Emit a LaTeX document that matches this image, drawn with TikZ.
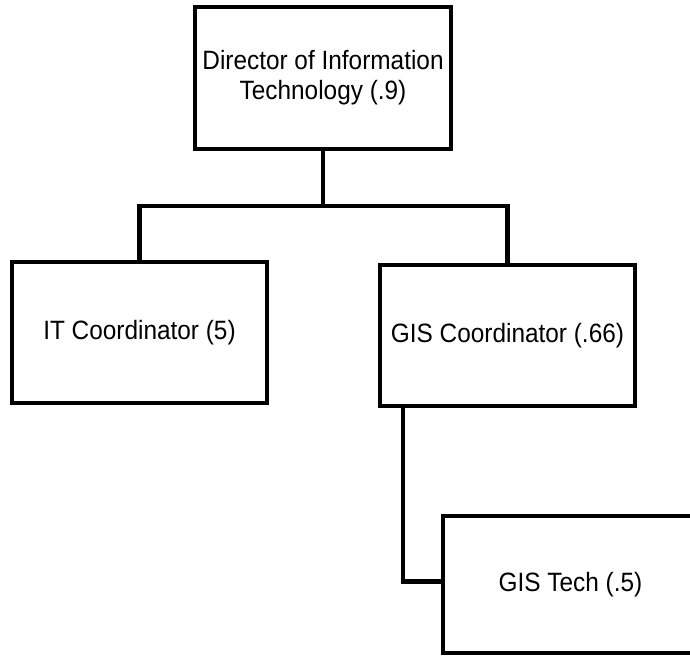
\documentclass[tikz,border=0pt]{standalone}
\usepackage{fontspec}
\setmainfont[FakeStretch=0.92]{Liberation Sans}
\begin{document}
\begin{tikzpicture}[x=1pt,y=-1pt,
  box/.style={draw=black,line width=4.6pt,fill=white,rectangle,inner sep=0pt,
    align=center,font=\fontsize{26.5}{30}\selectfont,minimum width=255pt,minimum height=141pt},
  link/.style={draw=black,line width=4.2pt}]
\useasboundingbox (0,0) rectangle (690,657);
\clip (0,0) rectangle (690,657);
\node[box,minimum width=256pt,minimum height=142pt] (dir) at (323,78) {Director of Information\\Technology (.9)};
\node[box] (it) at (139.5,332.5) {IT Coordinator (5)};
\node[box] (gis) at (507.5,335.5) {GIS Coordinator (.66)};
\node[box,minimum height=137pt] (tech) at (570.5,584.5) {GIS Tech (.5)};
\coordinate (junc) at (323,206);
\draw[link] (dir.south) -- (junc) -| (it.north);
\draw[link] (junc) -| (gis.north);
\draw[link] ([xshift=25pt]gis.south west) |- ([yshift=3pt]tech.west);
\end{tikzpicture}
\end{document}
